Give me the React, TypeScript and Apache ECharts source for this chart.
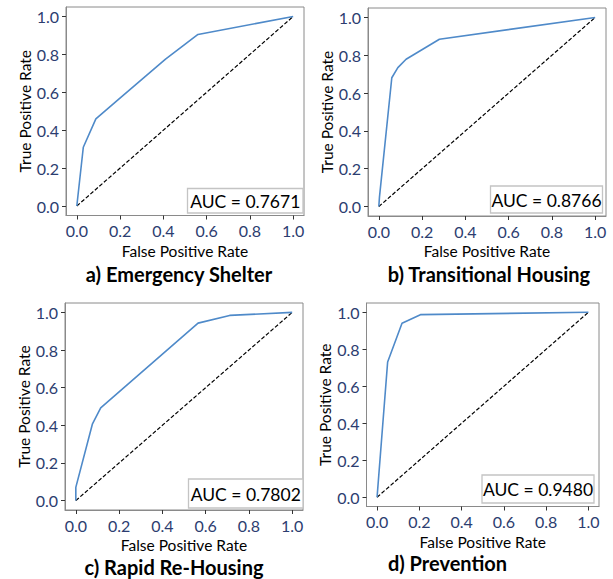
import React, { useEffect, useRef } from "react";
import * as echarts from "echarts";

const tickValues = [0, 0.2, 0.4, 0.6, 0.8, 1.0];
const diagonal = [[0, 0], [1, 1]];

const panelTitles = ["a) Emergency Shelter", "b) Transitional Housing", "c) Rapid Re-Housing", "d) Prevention"];
const aucLabels = ["AUC = 0.7671", "AUC = 0.8766", "AUC = 0.7802", "AUC = 0.9480"];

const rocShelter = [[0, 0], [0.03, 0.31], [0.088, 0.46], [0.19, 0.56], [0.41, 0.775], [0.56, 0.905], [1, 1]];
const rocTransitional = [[0, 0], [0.003, 0.05], [0.06, 0.681], [0.088, 0.735], [0.126, 0.779], [0.28, 0.885], [1, 1]];
const rocRapid = [[0, 0], [0, 0.07], [0.077, 0.408], [0.115, 0.493], [0.565, 0.943], [0.711, 0.984], [1, 1]];
const rocPrevention = [[0, 0], [0.05, 0.731], [0.118, 0.941], [0.205, 0.987], [1, 1]];

const rocSeries = [rocShelter, rocTransitional, rocRapid, rocPrevention];

const FONT = "Lato, 'Open Sans', sans-serif";
const LABEL_COLOR = "#2c3d70";
const FRAME_COLOR = "#8a8a8a";
const CURVE_COLOR = "#4f8ac9";

const grids = [
  { left: 66, top: 7, width: 238, height: 208.5 },
  { left: 368, top: 8, width: 238, height: 208 },
  { left: 65, top: 303, width: 238, height: 207 },
  { left: 366.5, top: 303, width: 232.5, height: 203.5 },
];

const boxes = [
  { x: 187.5, y: 188.5, w: 115.5, h: 24.5 },
  { x: 490.5, y: 186, w: 112, h: 27 },
  { x: 188.5, y: 479, w: 114.5, h: 29 },
  { x: 482, y: 475, w: 112, h: 28 },
];

const titlePos = [
  { x: 179, y: 274 },
  { x: 489, y: 274 },
  { x: 174, y: 567 },
  { x: 447.5, y: 563 },
];

export default function App() {
  const ref = useRef<HTMLDivElement>(null);
  useEffect(() => {
    if (!ref.current) return;
    const chart = echarts.init(ref.current, undefined, { renderer: "svg" });
    const fmt = (v: number) => Number(v).toFixed(1);
    const xAxis = grids.map((_, i) => ({
      type: "value",
      gridIndex: i,
      min: -0.05,
      max: 1.05,
      name: "False Positive Rate",
      nameLocation: "middle",
      nameGap: 27,
      nameTextStyle: { color: "#000", fontSize: 15.5, fontFamily: FONT },
      axisLine: { show: true, onZero: false, lineStyle: { color: FRAME_COLOR } },
      axisTick: { show: true, length: 4, customValues: tickValues, lineStyle: { color: "#333" } },
      axisLabel: { customValues: tickValues, formatter: fmt, color: LABEL_COLOR, fontSize: 16, fontFamily: FONT, margin: 7 },
      splitLine: { show: false },
    }));
    const yAxis = grids.map((_, i) => ({
      type: "value",
      gridIndex: i,
      min: -0.05,
      max: 1.05,
      name: "True Positive Rate",
      nameLocation: "middle",
      nameGap: 32,
      nameTextStyle: { color: "#000", fontSize: 15.5, fontFamily: FONT },
      axisLine: { show: true, onZero: false, lineStyle: { color: FRAME_COLOR } },
      axisTick: { show: true, length: 4, customValues: tickValues, lineStyle: { color: "#333" } },
      axisLabel: { customValues: tickValues, formatter: fmt, color: LABEL_COLOR, fontSize: 16, fontFamily: FONT, margin: 7 },
      splitLine: { show: false },
    }));
    const series: any[] = [];
    rocSeries.forEach((data, i) => {
      series.push({
        type: "line",
        xAxisIndex: i,
        yAxisIndex: i,
        data: diagonal,
        symbol: "none",
        lineStyle: { color: "#000", width: 1.2, type: [4, 2] },
        z: 2,
      });
      series.push({
        type: "line",
        xAxisIndex: i,
        yAxisIndex: i,
        data,
        symbol: "none",
        lineStyle: { color: CURVE_COLOR, width: 1.6 },
        z: 3,
      });
    });
    const graphic: any[] = [];
    boxes.forEach((b, i) => {
      graphic.push({
        type: "rect",
        z: 100,
        shape: { x: b.x, y: b.y, width: b.w, height: b.h },
        style: { fill: "#fff", stroke: "#c4c4c4", lineWidth: 1.3 },
      });
      graphic.push({
        type: "text",
        z: 101,
        x: b.x + b.w / 2,
        y: b.y + b.h / 2 + 0.5,
        style: {
          text: aucLabels[i],
          fill: "#000",
          font: `17.5px ${FONT}`,
          textAlign: "center",
          textVerticalAlign: "middle",
        },
      });
    });
    titlePos.forEach((p, i) => {
      graphic.push({
        type: "text",
        z: 100,
        x: p.x,
        y: p.y,
        style: {
          text: panelTitles[i],
          fill: "#000",
          font: `bold 20px ${FONT}`,
          textAlign: "center",
          textVerticalAlign: "middle",
        },
      });
    });
    chart.setOption({
      animation: false,
      backgroundColor: "#fff",
      grid: grids.map((g) => ({ ...g, show: true, borderColor: FRAME_COLOR, borderWidth: 1, backgroundColor: "transparent" })),
      xAxis,
      yAxis,
      series,
      graphic,
    });
    return () => chart.dispose();
  }, []);
  return <div ref={ref} style={{ position: "fixed", left: 0, top: 0, width: 613, height: 579 }} />;
}
